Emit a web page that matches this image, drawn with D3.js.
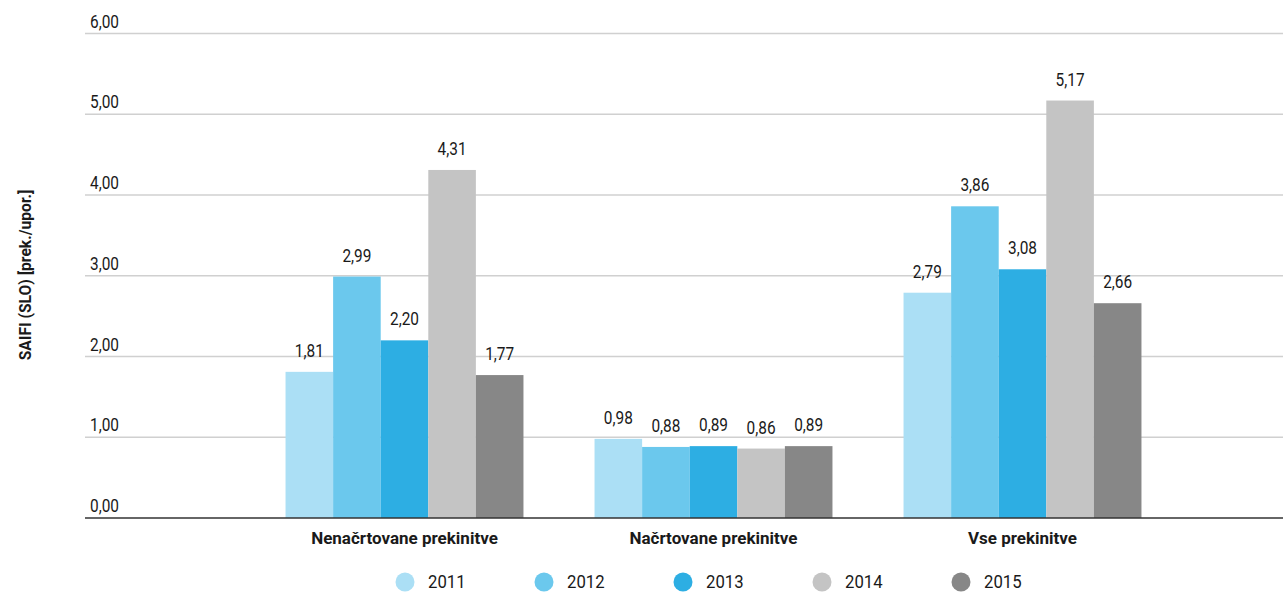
<!DOCTYPE html>
<html>
<head>
<meta charset="utf-8">
<script src="https://cdn.jsdelivr.net/npm/d3@7"></script>
<style>
  body { margin: 0; background: #fff; }
  text { font-family: Roboto, "Noto Sans", sans-serif; fill: #1a1a1a; }
</style>
</head>
<body>
<div id="chart"></div>
<script>
// Data
const categories = ["Nenačrtovane prekinitve", "Načrtovane prekinitve", "Vse prekinitve"];
const years = ["2011", "2012", "2013", "2014", "2015"];
const values2011 = [1.81, 0.98, 2.79];
const values2012 = [2.99, 0.88, 3.86];
const values2013 = [2.20, 0.89, 3.08];
const values2014 = [4.31, 0.86, 5.17];
const values2015 = [1.77, 0.89, 2.66];
const yTicks = [0, 1, 2, 3, 4, 5, 6];
const colors = ["#abdff5", "#6bc8ed", "#2daee3", "#c4c4c4", "#878787"];

const series = [values2011, values2012, values2013, values2014, values2015];
const data = categories.map((c, i) => ({
    cat: c,
    vals: years.map((yr, j) => ({year: yr, value: series[j][i]}))
}));

const width = 1283, height = 592;
const sx = 0.88; // horizontal squeeze to mimic a condensed face
const fmt = v => d3.format(".2f")(v).replace(".", ",");

const svg = d3.select("#chart")
    .append("svg")
    .attr("width", width)
    .attr("height", height);

// Scales
const x0 = d3.scaleBand()
    .domain(categories)
    .range([250, 1177])
    .paddingInner(0.23)
    .paddingOuter(0.115);

const x1 = d3.scaleBand()
    .domain(years)
    .range([0, x0.bandwidth()]);

const y = d3.scaleLinear()
    .domain([0, 6])
    .range([518, 33.5]);

// Gridlines + tick labels
const grid = svg.append("g");
grid.selectAll("line")
    .data(yTicks.filter(d => d > 0))
    .enter().append("line")
    .attr("x1", 85)
    .attr("x2", width)
    .attr("y1", d => y(d))
    .attr("y2", d => y(d))
    .attr("stroke", "#d0d0d0")
    .attr("stroke-width", 1.5);

grid.selectAll("text")
    .data(yTicks)
    .enter().append("text")
    .attr("transform", d => `translate(90,${y(d) - 6}) scale(${sx},1)`)
    .attr("font-size", 17.5)
    .text(d => fmt(d));

// Bars
const groups = svg.selectAll(".grp")
    .data(data)
    .enter().append("g")
    .attr("class", "grp")
    .attr("transform", d => `translate(${x0(d.cat)},0)`);

groups.selectAll("rect")
    .data(d => d.vals)
    .enter().append("rect")
    .attr("x", d => x1(d.year))
    .attr("y", d => y(d.value))
    .attr("width", x1.bandwidth())
    .attr("height", d => y(0) - y(d.value))
    .attr("fill", (d, i) => colors[i]);

groups.selectAll(".lbl")
    .data(d => d.vals)
    .enter().append("text")
    .attr("class", "lbl")
    .attr("transform", d => `translate(${x1(d.year) + x1.bandwidth() / 2},${y(d.value) - 15}) scale(${sx},1)`)
    .attr("text-anchor", "middle")
    .attr("font-size", 17.5)
    .text(d => fmt(d.value));

// Baseline
svg.append("line")
    .attr("x1", 85)
    .attr("x2", width)
    .attr("y1", y(0))
    .attr("y2", y(0))
    .attr("stroke", "#333")
    .attr("stroke-width", 1.5);

// Category labels
svg.selectAll(".cat")
    .data(categories)
    .enter().append("text")
    .attr("class", "cat")
    .attr("x", d => x0(d) + x0.bandwidth() / 2)
    .attr("y", 543.5)
    .attr("text-anchor", "middle")
    .attr("font-size", 17)
    .attr("font-weight", "bold")
    .text(d => d);

// Y axis title
svg.append("text")
    .attr("transform", "translate(31,275) rotate(-90) scale(0.92,1)")
    .attr("text-anchor", "middle")
    .attr("font-size", 17)
    .attr("font-weight", "bold")
    .text("SAIFI (SLO) [prek./upor.]");

// Legend
const legend = svg.append("g")
    .attr("transform", "translate(405,582)");

const items = legend.selectAll("g")
    .data(years)
    .enter().append("g")
    .attr("transform", (d, i) => `translate(${i * 139},0)`);

items.append("circle")
    .attr("r", 9.5)
    .attr("fill", (d, i) => colors[i]);

items.append("text")
    .attr("transform", `translate(23,5.5) scale(${sx},1)`)
    .attr("font-size", 19)
    .text(d => d);
</script>
</body>
</html>
